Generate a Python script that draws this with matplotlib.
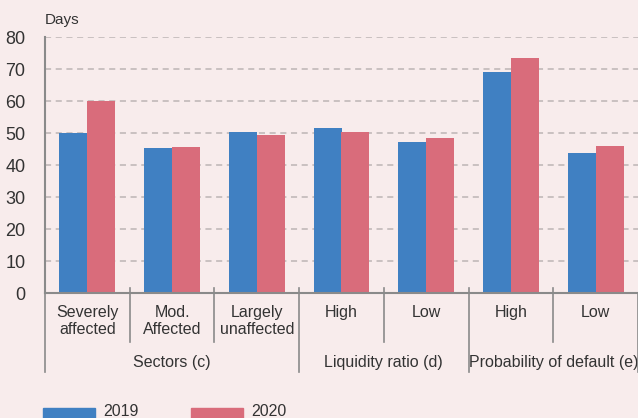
import matplotlib.pyplot as plt
import matplotlib.transforms as mtransforms
from matplotlib.patches import Rectangle
import numpy as np

plt.rcParams['font.family'] = ['Liberation Sans', 'DejaVu Sans']

# data
categories = ["Severely\naffected", "Mod.\nAffected", "Largely\nunaffected",
              "High", "Low", "High", "Low"]
groups = ["Sectors (c)", "Liquidity ratio (d)", "Probability of default (e)"]
group_sizes = [3, 2, 2]
series_names = ["2019", "2020"]
v2019 = [50.0, 45.3, 50.3, 51.7, 47.2, 69.1, 43.9]
v2020 = [60.0, 45.5, 49.4, 50.2, 48.4, 73.3, 45.8]

bg = '#f8ecec'
blue = '#4080c2'
red = '#d96c7b'
txt = '#333333'
line_c = '#8a8a8a'

fig = plt.figure(figsize=(6.38, 4.18), dpi=100, facecolor=bg)
ax = fig.add_axes([45/638, 125/418, 593/638, 256/418])
ax.set_facecolor(bg)

x = np.arange(len(categories))
w = 0.33
ax.bar(x - w/2, v2019, w, color=blue, zorder=3)
ax.bar(x + w/2, v2020, w, color=red, zorder=3)

ax.set_xlim(-0.5, len(categories) - 0.5)
ax.set_ylim(0, 80)
ax.set_yticks(range(0, 81, 10))
ax.tick_params(axis='y', length=0, pad=14, labelsize=13, colors=txt)
ax.set_xticks([])
ax.yaxis.grid(True, linestyle=(0, (4, 3)), color='#bdb5b5', linewidth=1.1, zorder=0)
for s in ['top', 'right']:
    ax.spines[s].set_visible(False)
ax.spines['left'].set_color(line_c)
ax.spines['left'].set_linewidth(1.5)
ax.spines['bottom'].set_color(line_c)
ax.spines['bottom'].set_linewidth(1.5)
ax.spines['bottom'].set_zorder(4)

trans = mtransforms.blended_transform_factory(ax.transData, ax.transAxes)
px = 1 / 256  # axes fraction per pixel (vertical)

ax.text(-0.5, 1 + 10 * px, "Days", transform=trans,
        fontsize=11, color=txt, ha='left', va='bottom')

# category labels
for xi, lab in zip(x, categories):
    ax.text(xi, -12 * px, lab, transform=trans, ha='center', va='top',
            fontsize=11.5, color=txt, linespacing=1.15)

# separators
bounds = np.cumsum([0] + group_sizes) - 0.5
for b in np.arange(-0.5, len(categories)):
    if b in bounds:
        ax.plot([b, b], [5 * px if b not in (bounds[0], bounds[-1]) else 0, -79 * px],
                transform=trans, color=line_c, lw=1.2, clip_on=False, zorder=5)
    else:
        ax.plot([b, b], [5 * px, -49 * px], transform=trans, color=line_c,
                lw=1.2, clip_on=False, zorder=5)

# group labels
for gi, g in enumerate(groups):
    c = (bounds[gi] + bounds[gi + 1]) / 2
    ax.text(c, -69 * px, g, transform=trans, ha='center', va='center',
            fontsize=11.5, color=txt)

# legend
for i, (name, col) in enumerate(zip(series_names, [blue, red])):
    x0 = 43 + i * 148
    fig.add_artist(Rectangle((x0 / 638, 0), 52 / 638, 10 / 418,
                             transform=fig.transFigure, color=col))
    fig.text((x0 + 60) / 638, 6 / 418, name, fontsize=11.5, color=txt,
             ha='left', va='center')

plt.savefig("out.png", dpi=100, facecolor=bg)
